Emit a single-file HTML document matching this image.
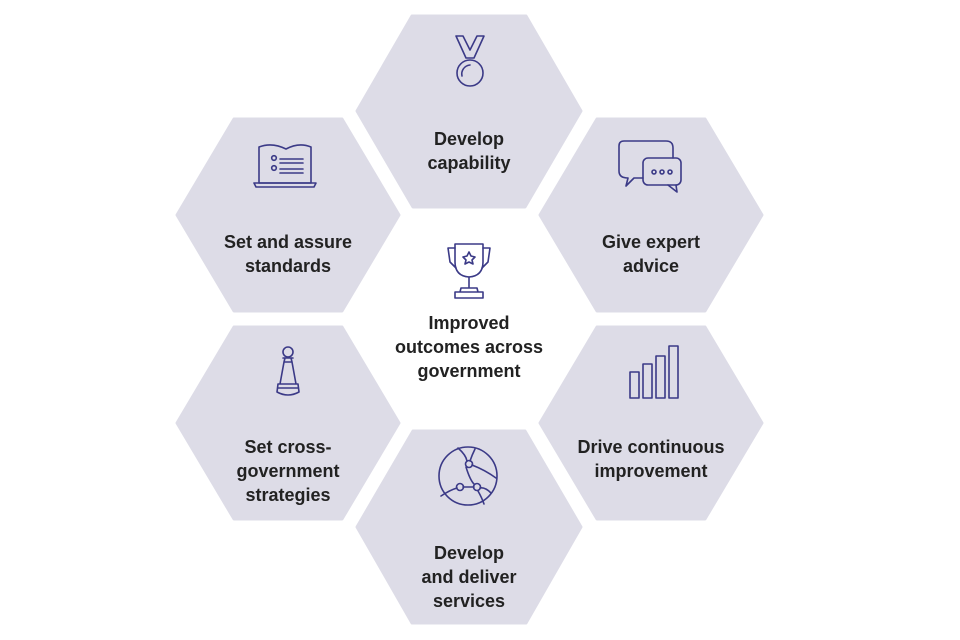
<!DOCTYPE html>
<html><head><meta charset="utf-8"><style>
html,body{margin:0;padding:0;background:#fff;}
svg{display:block}
text{font-family:"Liberation Sans",Arial,sans-serif;font-weight:bold;font-size:18px;fill:#222;text-anchor:middle}
.i{fill:none;stroke:#3b3a87;stroke-width:1.6;stroke-linejoin:round;stroke-linecap:round}
</style></head><body>
<svg width="960" height="640" viewBox="0 0 960 640" xmlns="http://www.w3.org/2000/svg">
<g fill="#dddce7" stroke="#dddce7" stroke-width="3" stroke-linejoin="round">
<polygon points="357,111 412,16 526,16 581,111 525,207 413,207"/>
<polygon points="177,215 234,119 342,119 399,215 342,311 234,311"/>
<polygon points="540,215 597,119 705,119 762,215 705,311 597,311"/>
<polygon points="177,423 234,327 342,327 399,423 342,519 234,519"/>
<polygon points="540,423 597,327 705,327 762,423 705,519 597,519"/>
<polygon points="357,527 413,431 525,431 581,527 526,623 412,623"/>
</g>
<!-- medal -->
<g class="i">
<path d="M456,36 L463,36 L470,50 L477,36 L484,36 L474,58 L466,58 Z"/>
<circle cx="470" cy="73" r="13"/>
<path d="M462,76 A9,9 0 0 1 470,65"/>
</g>
<!-- laptop book -->
<g class="i">
<path d="M259,147 L259,183 L311,183 L311,147 Q299,142 286,149 Q272,142 259,147 Z"/>
<path d="M254,183 L316,183 L314,187 L256,187 Z"/>
<circle cx="274" cy="158" r="2.3"/><circle cx="274" cy="168" r="2.3"/>
<path d="M280,159 L303,159 M280,163 L303,163 M280,169 L303,169 M280,173 L303,173"/>
</g>
<!-- speech bubbles -->
<g class="i">
<path d="M624,141 L666,141 Q673,141 673,148 L673,158 M643,178 L634,178 L626,186 L628,178 Q619,178 619,171 L619,146 Q619,141 624,141"/>
<rect x="643" y="158" width="38" height="27" rx="5"/>
<path d="M668,185 L677,192 L676,185"/>
<circle cx="654" cy="172" r="2"/><circle cx="662" cy="172" r="2"/><circle cx="670" cy="172" r="2"/>
</g>
<!-- trophy -->
<g class="i">
<path d="M455,244 L483,244 L483,262 Q483,276 469,277 Q455,276 455,262 Z"/>
<path d="M455,248 L448,248 L450,262 L456,268 M483,248 L490,248 L488,262 L482,268"/>
<path d="M469,277 L469,288 M461,288 L477,288 L478,292 L460,292 Z M455,292 L483,292 L483,298 L455,298 Z"/>
<path d="M469,252 L471,256 L475,257 L472,260 L473,264 L469,262 L465,264 L466,260 L463,257 L467,256 Z"/>
</g>
<!-- pawn -->
<g class="i">
<circle cx="288" cy="352" r="5"/>
<path d="M283,358 L293,358 M285,358 L284,362 L292,362 L291,358 M284,362 L280,384 L296,384 L292,362 M278,384 L298,384 L299,392 Q288,398 277,392 Z M278,388 L298,388"/>
</g>
<!-- bars -->
<g class="i">
<rect x="630" y="372" width="9" height="26"/>
<rect x="643" y="364" width="9" height="34"/>
<rect x="656" y="356" width="9" height="42"/>
<rect x="669" y="346" width="9" height="52"/>
</g>
<!-- globe -->
<g class="i">
<circle cx="468" cy="476" r="29"/>
<circle cx="469" cy="464" r="3.5"/><circle cx="460" cy="487" r="3.5"/><circle cx="477" cy="487" r="3.5"/>
<path d="M458,448 Q466,455 467,461 M472,465 Q485,470 496,478 M466,467 Q470,480 474,484 M441,496 Q450,490 457,488 M463,487 L474,487 M480,488 Q485,487 491,493 M478,491 Q482,498 484,504 M475,449 Q472,455 470,461"/>
</g>
<text x="469" y="145">Develop</text>
<text x="469" y="169">capability</text>
<text x="288" y="248">Set and assure</text>
<text x="288" y="272">standards</text>
<text x="651" y="248">Give expert</text>
<text x="651" y="272">advice</text>
<text x="469" y="329">Improved</text>
<text x="469" y="353">outcomes across</text>
<text x="469" y="377">government</text>
<text x="288" y="453">Set cross-</text>
<text x="288" y="477">government</text>
<text x="288" y="501">strategies</text>
<text x="651" y="453">Drive continuous</text>
<text x="651" y="477">improvement</text>
<text x="469" y="559">Develop</text>
<text x="469" y="583">and deliver</text>
<text x="469" y="607">services</text>
</svg>
</body></html>
